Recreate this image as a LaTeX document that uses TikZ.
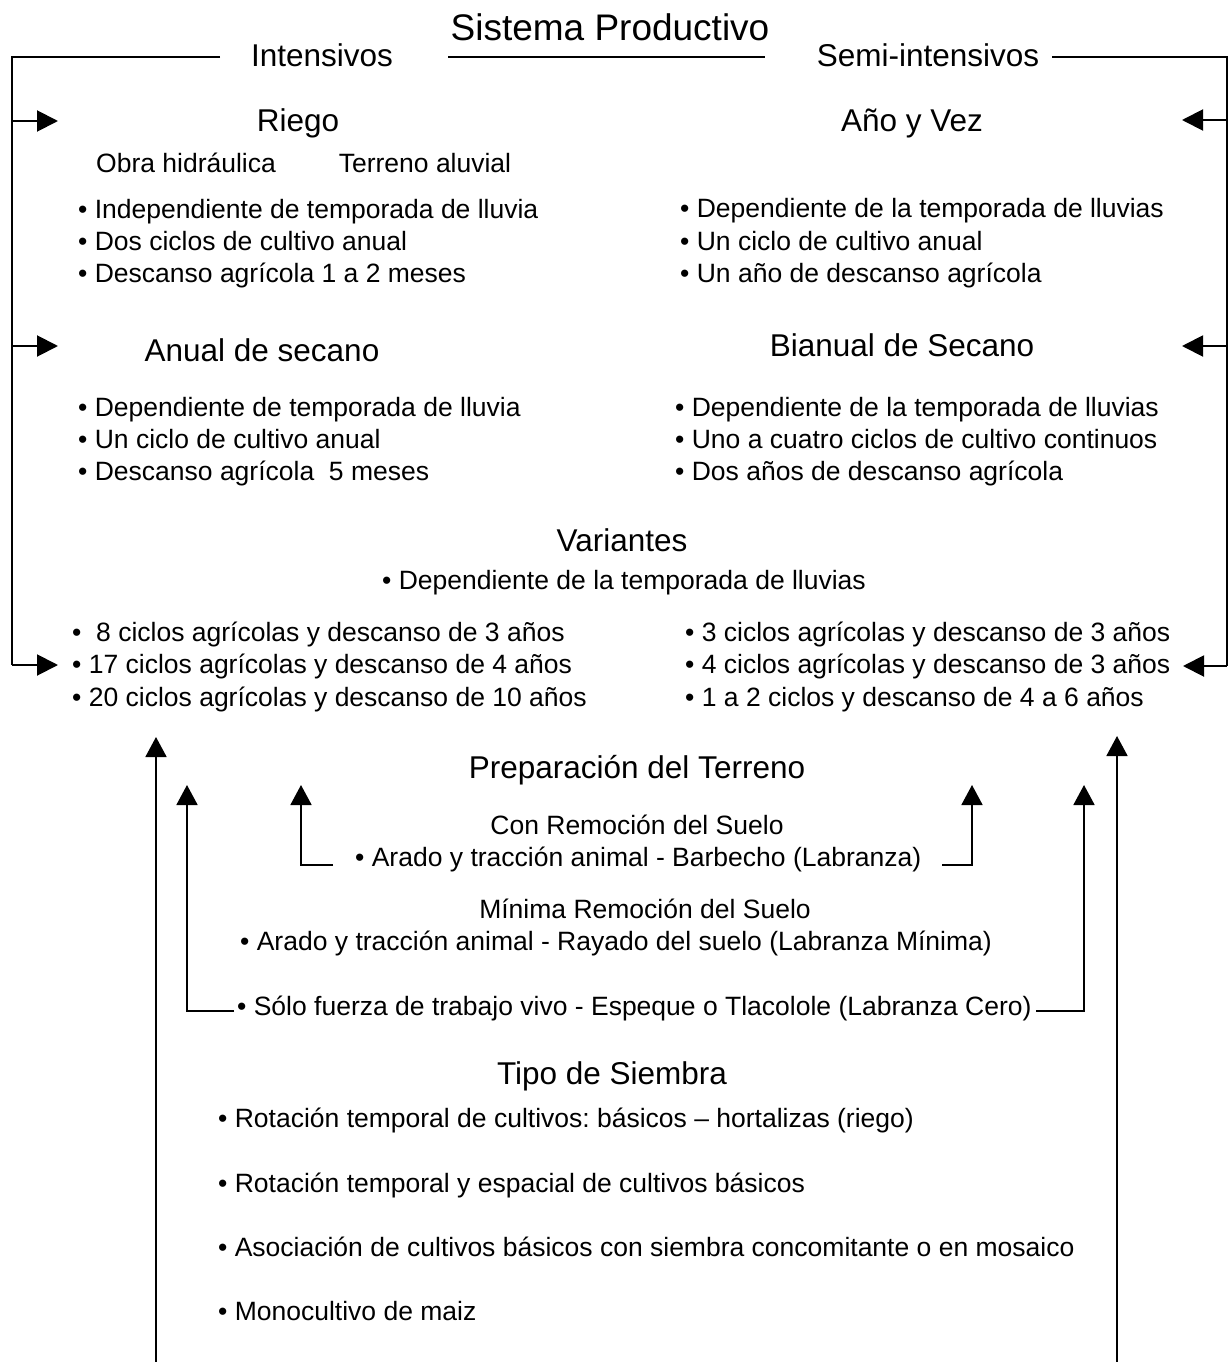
\documentclass[tikz,border=0pt]{standalone}
\usepackage{fontspec}
\setmainfont{Liberation Sans}
\usetikzlibrary{arrows.meta}
\frenchspacing
\begin{document}
\begin{tikzpicture}[x=1pt,y=-1pt,
  body/.style={inner sep=0pt, font=\fontsize{26.5}{30}\selectfont, text height=19pt, text depth=0pt},
  bl/.style={body, anchor=west},
  head/.style={inner sep=0pt, font=\fontsize{31.5}{36}\selectfont, text height=22.5pt, text depth=0pt},
  ttl/.style={inner sep=0pt, font=\fontsize{37}{42}\selectfont, text height=26.5pt, text depth=0pt},
  lineS/.style={line width=1.5pt},
  frameS/.style={line width=2pt},
  arr/.style={line width=2pt, -{Triangle[length=21pt,width=21pt]}},
  uparr/.style={line width=1.8pt, -{Triangle[length=20pt,width=21pt]}}]
\useasboundingbox (0,0) rectangle (1230,1362);

% title and branches
\node[ttl] (title) at (610,27) {Sistema Productivo};
\node[head] (int) at (322,55) {Intensivos};
\node[head] (semi) at (928,55) {Semi-intensivos};

\coordinate (Lh) at (220,57);
\coordinate (Lc) at (12,57);
\coordinate (Lb) at (12,665);
\coordinate (Mh1) at (448,57);
\coordinate (Mh2) at (765,57);
\coordinate (Rh) at (1052,57);
\coordinate (Rc) at (1227,57);
\coordinate (Rb) at (1227,666);
\draw[lineS] (Mh1) -- (Mh2);
\draw[frameS] (Lh) -- (Lc) -- (Lb);
\draw[frameS] (Rh) -- (Rc) -- (Rb);

% left arrows
\coordinate (La1) at (12,121);
\coordinate (La2) at (12,346);
\coordinate (Lt1) at (58,121);
\coordinate (Lt2) at (58,346);
\coordinate (Lt3) at (58,665);
\draw[arr] (La1) -- (Lt1);
\draw[arr] (La2) -- (Lt2);
\draw[arr] (Lb) -- (Lt3);
% right arrows
\coordinate (Ra1) at (1227,120);
\coordinate (Ra2) at (1227,346);
\coordinate (Rt1) at (1182,120);
\coordinate (Rt2) at (1182,346);
\coordinate (Rt3) at (1183,666);
\draw[arr] (Ra1) -- (Rt1);
\draw[arr] (Ra2) -- (Rt2);
\draw[arr] (Rb) -- (Rt3);

% Riego
\node[head] (riego) at (298,120) {Riego};
\node[body] (obra) at (186,163) {Obra hidráulica};
\node[body] (aluv) at (425,163) {Terreno aluvial};
\node[bl] (r1) at (78,209) {• Independiente de temporada de lluvia};
\node[bl] (r2) at (78,241) {• Dos ciclos de cultivo anual};
\node[bl] (r3) at (78,273) {• Descanso agrícola 1 a 2 meses};

% Año y Vez
\node[head] (ayv) at (912,120) {Año y Vez};
\node[bl] (a1) at (680,208) {• Dependiente de la temporada de lluvias};
\node[bl] (a2) at (680,241) {• Un ciclo de cultivo anual};
\node[bl] (a3) at (680,273) {• Un año de descanso agrícola};

% Anual de secano
\node[head] (anual) at (262,350) {Anual de secano};
\node[bl] (s1) at (78,407) {• Dependiente de temporada de lluvia};
\node[bl] (s2) at (78,439) {• Un ciclo de cultivo anual};
\node[bl] (s3) at (78,471) {• Descanso agrícola \ 5 meses};

% Bianual de Secano
\node[head] (bian) at (902,345) {Bianual de Secano};
\node[bl] (b1) at (675,407) {• Dependiente de la temporada de lluvias};
\node[bl] (b2) at (675,439) {• Uno a cuatro ciclos de cultivo continuos};
\node[bl] (b3) at (675,471) {• Dos años de descanso agrícola};

% Variantes
\node[head] (var) at (622,540) {Variantes};
\node[body] (v0) at (624,580) {• Dependiente de la temporada de lluvias};
\node[bl] (v1) at (72,632) {• \ 8 ciclos agrícolas y descanso de 3 años};
\node[bl] (v2) at (72,664) {• 17 ciclos agrícolas y descanso de 4 años};
\node[bl] (v3) at (72,697) {• 20 ciclos agrícolas y descanso de 10 años};
\node[bl] (w1) at (685,632) {• 3 ciclos agrícolas y descanso de 3 años};
\node[bl] (w2) at (685,664) {• 4 ciclos agrícolas y descanso de 3 años};
\node[bl] (w3) at (685,697) {• 1 a 2 ciclos y descanso de 4 a 6 años};

% Preparación del terreno
\node[head] (prep) at (637,767) {Preparación del Terreno};
\node[body] (con) at (637,825) {Con Remoción del Suelo};
\node[bl] (c1) at (355,857) {• Arado y tracción animal - Barbecho (Labranza)};
\node[body] (min) at (645,909) {Mínima Remoción del Suelo};
\node[bl] (m1) at (240,941) {• Arado y tracción animal - Rayado del suelo (Labranza Mínima)};
\node[bl] (z1) at (237,1006) {• Sólo fuerza de trabajo vivo - Espeque o Tlacolole (Labranza Cero)};

% Tipo de siembra
\node[head] (tipo) at (612,1073) {Tipo de Siembra};
\node[bl] (t1) at (218,1118) {• Rotación temporal de cultivos: básicos – hortalizas (riego)};
\node[bl] (t2) at (218,1183) {• Rotación temporal y espacial de cultivos básicos};
\node[bl] (t3) at (218,1247) {• Asociación de cultivos básicos con siembra concomitante o en mosaico};
\node[bl] (t4) at (218,1311) {• Monocultivo de maiz};

% upward arrows
\coordinate (U1b) at (156,1362);
\coordinate (U1t) at (156,737);
\draw[uparr] (U1b) -- (U1t);
\coordinate (U6b) at (1117,1362);
\coordinate (U6t) at (1117,736);
\draw[uparr] (U6b) -- (U6t);

\coordinate (U2h) at (234,1011);
\coordinate (U2c) at (187,1011);
\coordinate (U2t) at (187,785);
\draw[uparr] (U2h) -- (U2c) -- (U2t);

\coordinate (U3h) at (333,865);
\coordinate (U3c) at (301,865);
\coordinate (U3t) at (301,785);
\draw[uparr] (U3h) -- (U3c) -- (U3t);

\coordinate (U4h) at (942,865);
\coordinate (U4c) at (972,865);
\coordinate (U4t) at (972,785);
\draw[uparr] (U4h) -- (U4c) -- (U4t);

\coordinate (U5h) at (1036,1011);
\coordinate (U5c) at (1084,1011);
\coordinate (U5t) at (1084,785);
\draw[uparr] (U5h) -- (U5c) -- (U5t);
\end{tikzpicture}
\end{document}
